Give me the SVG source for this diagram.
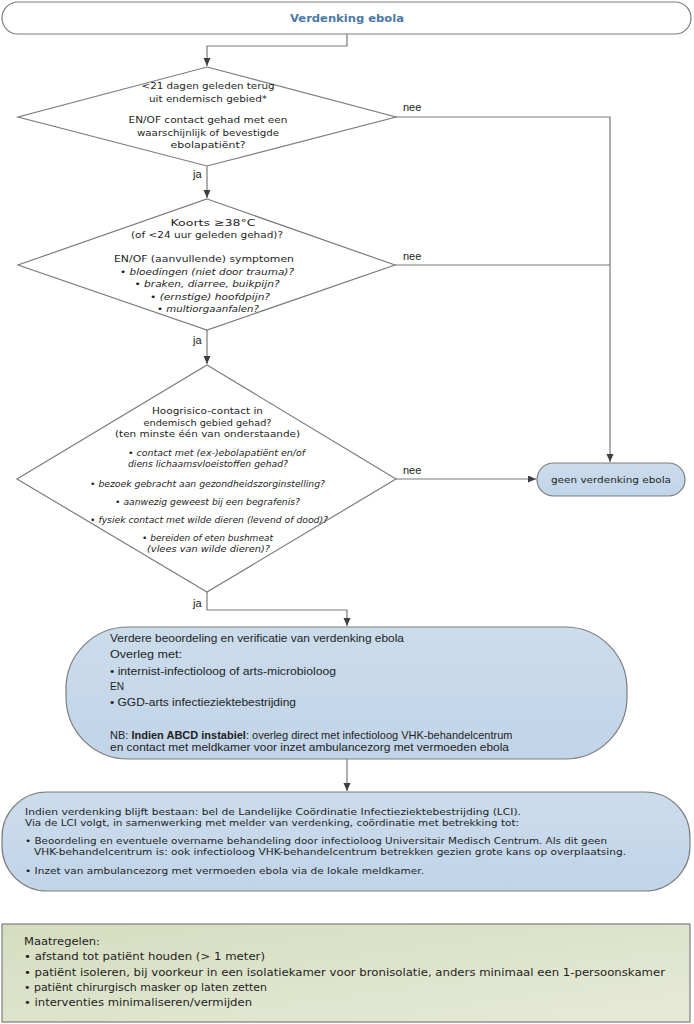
<svg xmlns="http://www.w3.org/2000/svg" width="694" height="1024" viewBox="0 0 694 1024">
<defs>
<marker id="arr" markerUnits="userSpaceOnUse" markerWidth="9" markerHeight="8" refX="8" refY="3.5" orient="auto">
<path d="M0,0 L8,3.5 L0,7 z" fill="#3f3f3f"/>
</marker>
<linearGradient id="blue" x1="0" y1="0" x2="0" y2="1">
<stop offset="0" stop-color="#cbdcec"/>
<stop offset="1" stop-color="#c1d4e8"/>
</linearGradient>
<linearGradient id="green" x1="0" y1="0" x2="1" y2="1">
<stop offset="0" stop-color="#d5ddc0"/>
<stop offset="1" stop-color="#e6ead7"/>
</linearGradient>
<style>
.conn{fill:none;stroke:#7a7a7a;stroke-width:1.2}
.shape{stroke:#7d7d7d;stroke-width:1.2}
.t{font-family:"DejaVu Sans","Liberation Sans",sans-serif;fill:#1e1e1e}
.ts{font-family:"Liberation Sans","DejaVu Sans",sans-serif;fill:#1e1e1e}
.c{text-anchor:middle}
.i{font-style:italic}
.lbl{font-family:"Liberation Sans",sans-serif;font-size:11px;fill:#222}
</style>
</defs>

<g id="connectors">
<polyline class="conn" points="347,34 347,46 207,46 207,66" marker-end="url(#arr)"/>
<polyline class="conn" points="207,166 207,198" marker-end="url(#arr)"/>
<polyline class="conn" points="396,117 610,117 610,462" marker-end="url(#arr)"/>
<polyline class="conn" points="395,265 610,265"/>
<polyline class="conn" points="207,330 207,364" marker-end="url(#arr)"/>
<polyline class="conn" points="396,479 536,479" marker-end="url(#arr)"/>
<polyline class="conn" points="207,592 207,610 347,610 347,626" marker-end="url(#arr)"/>
<polyline class="conn" points="347,759 347,791" marker-end="url(#arr)"/>
<text class="lbl" x="403" y="111">nee</text>
<text class="lbl" x="193" y="178">ja</text>
<text class="lbl" x="403" y="260">nee</text>
<text class="lbl" x="193" y="344">ja</text>
<text class="lbl" x="403" y="474">nee</text>
<text class="lbl" x="193" y="607">ja</text>
</g>

<g id="start">
<rect class="shape" x="2" y="2" width="689" height="32" rx="16" fill="#ffffff"/>
<text class="t c" x="347" y="22" font-size="11" font-weight="bold" style="fill:#4a79a8" textLength="114" lengthAdjust="spacingAndGlyphs">Verdenking ebola</text>
</g>

<g id="q1">
<polygon class="shape" points="207,67 396,117 207,166 18,117" fill="#ffffff"/>
<g class="t c" font-size="9.5">
<text x="208" y="89" textLength="133" lengthAdjust="spacingAndGlyphs">&lt;21 dagen geleden terug</text>
<text x="208" y="102" textLength="118" lengthAdjust="spacingAndGlyphs">uit endemisch gebied*</text>
<text x="208" y="123" textLength="159" lengthAdjust="spacingAndGlyphs">EN/OF contact gehad met een</text>
<text x="208" y="136" textLength="142" lengthAdjust="spacingAndGlyphs">waarschijnlijk of bevestigde</text>
<text x="208" y="148" textLength="75" lengthAdjust="spacingAndGlyphs">ebolapatiënt?</text>
</g>
</g>

<g id="q2">
<polygon class="shape" points="207,199 395,265 207,330 18,265" fill="#ffffff"/>
<g class="t c" font-size="9.5">
<text x="213" y="226" textLength="85" lengthAdjust="spacingAndGlyphs">Koorts ≥38°C</text>
<text x="207" y="238" textLength="152" lengthAdjust="spacingAndGlyphs">(of &lt;24 uur geleden gehad)?</text>
<text x="204" y="262" textLength="180" lengthAdjust="spacingAndGlyphs">EN/OF (aanvullende) symptomen</text>
<text class="i" x="207" y="275" textLength="174" lengthAdjust="spacingAndGlyphs">• bloedingen (niet door trauma)?</text>
<text class="i" x="207" y="287" textLength="145" lengthAdjust="spacingAndGlyphs">• braken, diarree, buikpijn?</text>
<text class="i" x="210" y="300" textLength="120" lengthAdjust="spacingAndGlyphs">• (ernstige) hoofdpijn?</text>
<text class="i" x="208" y="312" textLength="102" lengthAdjust="spacingAndGlyphs">• multiorgaanfalen?</text>
</g>
</g>

<g id="q3">
<polygon class="shape" points="207,365 396,479 207,592 17,479" fill="#ffffff"/>
<g class="t" font-size="9.5">
<text class="c" x="207.5" y="413.5" textLength="111" lengthAdjust="spacingAndGlyphs">Hoogrisico-contact in</text>
<text class="c" x="207.5" y="425.5" textLength="128" lengthAdjust="spacingAndGlyphs">endemisch gebied gehad?</text>
<text class="c" x="207.5" y="437" textLength="185" lengthAdjust="spacingAndGlyphs">(ten minste één van onderstaande)</text>
</g>
<g class="t i" font-size="8.5">
<text x="128" y="455.5" textLength="177" lengthAdjust="spacingAndGlyphs">• contact met (ex-)ebolapatiënt en/of</text>
<text x="128" y="466.5" textLength="160" lengthAdjust="spacingAndGlyphs">diens lichaamsvloeistoffen gehad?</text>
<text x="90" y="486.5" textLength="235" lengthAdjust="spacingAndGlyphs">• bezoek gebracht aan gezondheidszorginstelling?</text>
<text x="115" y="504.5" textLength="185" lengthAdjust="spacingAndGlyphs">• aanwezig geweest bij een begrafenis?</text>
<text x="90" y="522.5" textLength="238" lengthAdjust="spacingAndGlyphs">• fysiek contact met wilde dieren (levend of dood)?</text>
<text x="142" y="540.5" textLength="131" lengthAdjust="spacingAndGlyphs">• bereiden of eten bushmeat</text>
<text x="147" y="551.5" textLength="123" lengthAdjust="spacingAndGlyphs">(vlees van wilde dieren)?</text>
</g>
</g>

<g id="geen">
<rect class="shape" x="537" y="463" width="148" height="33" rx="16.5" fill="url(#blue)"/>
<text class="t c" x="611" y="483" font-size="9.5" textLength="120" lengthAdjust="spacingAndGlyphs">geen verdenking ebola</text>
</g>

<g id="verdere">
<rect class="shape" x="66" y="627" width="561" height="132" rx="62" ry="62" fill="url(#blue)"/>
<g class="ts" font-size="11">
<text x="110" y="642" textLength="294" lengthAdjust="spacingAndGlyphs">Verdere beoordeling en verificatie van verdenking ebola</text>
<text x="110" y="658" textLength="72" lengthAdjust="spacingAndGlyphs">Overleg met:</text>
<text x="110" y="675" textLength="226" lengthAdjust="spacingAndGlyphs">• internist-infectioloog of arts-microbioloog</text>
<text x="110" y="690" textLength="14" lengthAdjust="spacingAndGlyphs">EN</text>
<text x="110" y="706" textLength="186" lengthAdjust="spacingAndGlyphs">• GGD-arts infectieziektebestrijding</text>
<text x="110" y="739">NB: <tspan font-weight="bold">Indien ABCD instabiel</tspan>: overleg direct met infectioloog VHK-behandelcentrum</text>
<text x="110" y="751" textLength="399" lengthAdjust="spacingAndGlyphs">en contact met meldkamer voor inzet ambulancezorg met vermoeden ebola</text>
</g>
</g>

<g id="lci">
<rect class="shape" x="2" y="792" width="688" height="99" rx="45" ry="45" fill="url(#blue)"/>
<g class="t" font-size="9">
<text x="25" y="814.5" textLength="496" lengthAdjust="spacingAndGlyphs">Indien verdenking blijft bestaan: bel de Landelijke Coördinatie Infectieziektebestrijding (LCI).</text>
<text x="25" y="826" textLength="494" lengthAdjust="spacingAndGlyphs">Via de LCI volgt, in samenwerking met melder van verdenking, coördinatie met betrekking tot:</text>
<text x="25" y="843.5" textLength="582" lengthAdjust="spacingAndGlyphs">• Beoordeling en eventuele overname behandeling door infectioloog Universitair Medisch Centrum. Als dit geen</text>
<text x="34" y="855" textLength="592" lengthAdjust="spacingAndGlyphs">VHK-behandelcentrum is: ook infectioloog VHK-behandelcentrum betrekken gezien grote kans op overplaatsing.</text>
<text x="25" y="873.5" textLength="399" lengthAdjust="spacingAndGlyphs">• Inzet van ambulancezorg met vermoeden ebola via de lokale meldkamer.</text>
</g>
</g>

<g id="maatregelen">
<rect class="shape" x="2" y="924" width="688" height="98" fill="url(#green)"/>
<g class="t" font-size="10">
<text x="24" y="945" textLength="76" lengthAdjust="spacingAndGlyphs">Maatregelen:</text>
<text x="24" y="959.5" textLength="241" lengthAdjust="spacingAndGlyphs">• afstand tot patiënt houden (&gt; 1 meter)</text>
<text x="24" y="976" textLength="641" lengthAdjust="spacingAndGlyphs">• patiënt isoleren, bij voorkeur in een isolatiekamer voor bronisolatie, anders minimaal een 1-persoonskamer</text>
<text x="24" y="991" textLength="243" lengthAdjust="spacingAndGlyphs">• patiënt chirurgisch masker op laten zetten</text>
<text x="24" y="1006" textLength="228" lengthAdjust="spacingAndGlyphs">• interventies minimaliseren/vermijden</text>
</g>
</g>
</svg>
